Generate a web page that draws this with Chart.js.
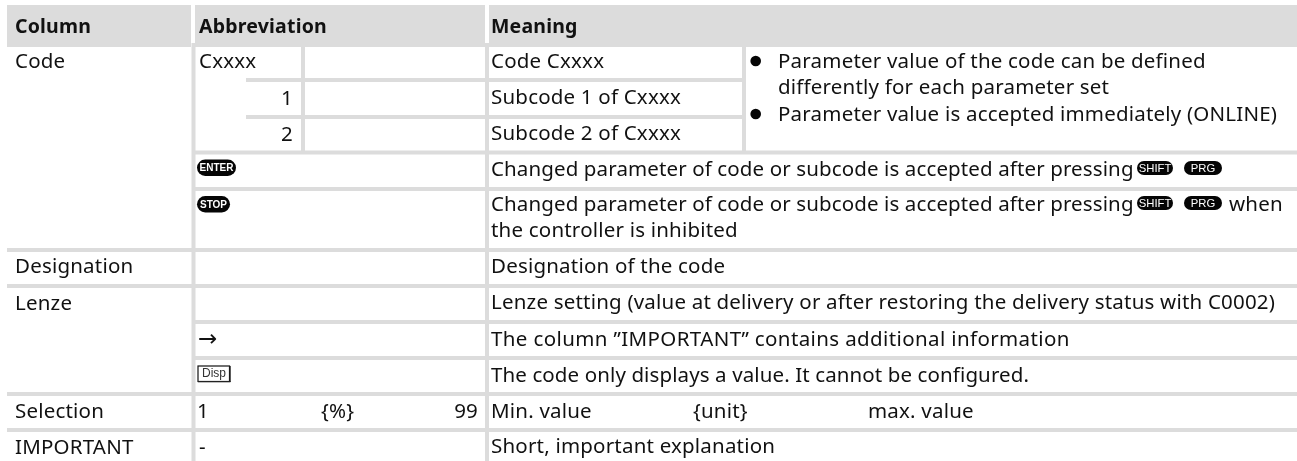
<!DOCTYPE html>
<html><head><meta charset="utf-8">
<style>html,body{margin:0;padding:0;background:#fff}canvas{display:block}</style>
<script src="https://cdn.jsdelivr.net/npm/chart.js@4"></script></head>
<body><canvas id="c" width="1297" height="461"></canvas>
<script>
const headers = ["Column","Abbreviation","Meaning"];
const columnNames = ["Code","Designation","Lenze","Selection","IMPORTANT"];
const abbreviations = ["Cxxxx","1","2","→","1","{%}","99","-"];
const meanings = ["Code Cxxxx","Subcode 1 of Cxxxx","Subcode 2 of Cxxxx",
 "Changed parameter of code or subcode is accepted after pressing",
 "Changed parameter of code or subcode is accepted after pressing","the controller is inhibited",
 "Designation of the code",
 "Lenze setting (value at delivery or after restoring the delivery status with C0002)",
 "The column ”IMPORTANT” contains additional information",
 "The code only displays a value. It cannot be configured.",
 "Min. value","{unit}","max. value","Short, important explanation"];
const notes = ["Parameter value of the code can be defined","differently for each parameter set","Parameter value is accepted immediately (ONLINE)"];
const keyNames = ["ENTER","STOP","SHIFT","PRG","Disp"];
const whenWord = "when";

const GREY="#dcdcdc", FONT='"Noto Sans"', SIZE=20.5, SP=0.2;
const bands=[[7,191],[195,485],[489,1297]];
const hr=[[246,742,80],[246,742,117],[195,1297,152.5],[195,1297,189],[7,1297,250],[7,1297,286],[195,1297,322],[195,1297,358],[7,1297,394],[7,1297,430]];
const vr=[[193.5,43,461],[487,43,461],[303,47,151],[744,47,151]];
const seg=(a,b,w)=>({type:'line',data:[a,b],borderColor:GREY,borderWidth:w,pointRadius:0,borderCapStyle:'butt',tension:0});
const ds=[];
bands.forEach(b=>ds.push(seg({x:b[0],y:26},{x:b[1],y:26},42)));
hr.forEach(r=>ds.push(seg({x:r[0],y:r[2]},{x:r[1],y:r[2]},4)));
vr.forEach(r=>ds.push(seg({x:r[0],y:r[1]},{x:r[0],y:r[2]},4)));

const textPlugin={id:'tableText',afterDatasetsDraw(ch){
 const c=ch.ctx,X=ch.scales.x,Y=ch.scales.y;
 const T=(s,x,y,o={})=>{c.font=(o.bold?'bold 19.5px ':SIZE+'px ')+FONT;if(o.font)c.font=o.font;c.letterSpacing=(o.font?0:(o.sp??SP))+'px';c.textAlign=o.align||'left';c.textBaseline='alphabetic';c.fillStyle=o.color||'#111';c.fillText(s,X.getPixelForValue(x),Y.getPixelForValue(y));};
 const pill=(s,x,y,w,h,f)=>{c.fillStyle='#050505';c.beginPath();c.roundRect(X.getPixelForValue(x),Y.getPixelForValue(y),w,h,h/2);c.fill();
   c.letterSpacing='0px';c.font=f;c.fillStyle='#fff';c.textAlign='center';c.textBaseline='middle';c.fillText(s,X.getPixelForValue(x)+w/2,Y.getPixelForValue(y)+h/2+.5);};
 c.save();
 [15,199,491].forEach((x,i)=>T(headers[i],x,33,{bold:true}));
 T(columnNames[0],15,68);T(columnNames[1],15,273);T(columnNames[2],15,310);T(columnNames[3],15,418);T(columnNames[4],15,454);
 T(abbreviations[0],199,68);T(abbreviations[1],293,105,{align:'right'});T(abbreviations[2],293,141,{align:'right'});
 T(abbreviations[3],198,346,{font:'23px "DejaVu Sans"'});
 T(abbreviations[4],197,418);T(abbreviations[5],321,418);T(abbreviations[6],478,418,{align:'right'});T(abbreviations[7],199,454);
 const ys=[68,104,140,176,211,237,273,309,346,382,418];
 const sp={3:.12,4:.12,8:.38,9:.11};
 ys.forEach((y,i)=>T(meanings[i],491,y,{sp:sp[i]}));
 T(meanings[11],693,418);T(meanings[12],868,418);T(meanings[13],491,453);
 [68,94,121].forEach((y,i)=>T(notes[i],778,y));
 [61,114].forEach(y=>{c.fillStyle='#050505';c.beginPath();c.arc(X.getPixelForValue(755.7),Y.getPixelForValue(y),5.3,0,7);c.fill();});
 const bold='bold 10px "Liberation Sans"',reg='11.3px "Liberation Sans"';
 pill(keyNames[0],197,159.5,39,16.5,bold);pill(keyNames[1],197,196,33,16.5,bold);
 pill(keyNames[2],1137,161,36,14,reg);pill(keyNames[3],1184,161,38,14,reg);
 pill(keyNames[2],1137,196,36,14,reg);pill(keyNames[3],1184,196,38,14,reg);
 T(whenWord,1229,211);
 c.strokeStyle='#111';c.lineWidth=1.2;c.strokeRect(198,366,31.5,15.5);c.fillStyle='#222';c.fillRect(198,381,32.5,1.2);c.fillRect(229.5,366,1.2,16);
 c.letterSpacing='0px';c.font='12px "Liberation Sans"';c.fillStyle='#333';c.textAlign='center';c.textBaseline='middle';c.fillText(keyNames[4],214,373.5);
 c.restore();
}};
new Chart(document.getElementById('c'),{type:'scatter',data:{datasets:ds},plugins:[textPlugin],options:{
 responsive:false,animation:false,layout:{padding:0},
 plugins:{legend:{display:false},tooltip:{enabled:false},title:{display:false}},
 scales:{x:{type:'linear',min:0,max:1297,display:false},y:{type:'linear',min:0,max:461,reverse:true,display:false}}}});
</script></body></html>
